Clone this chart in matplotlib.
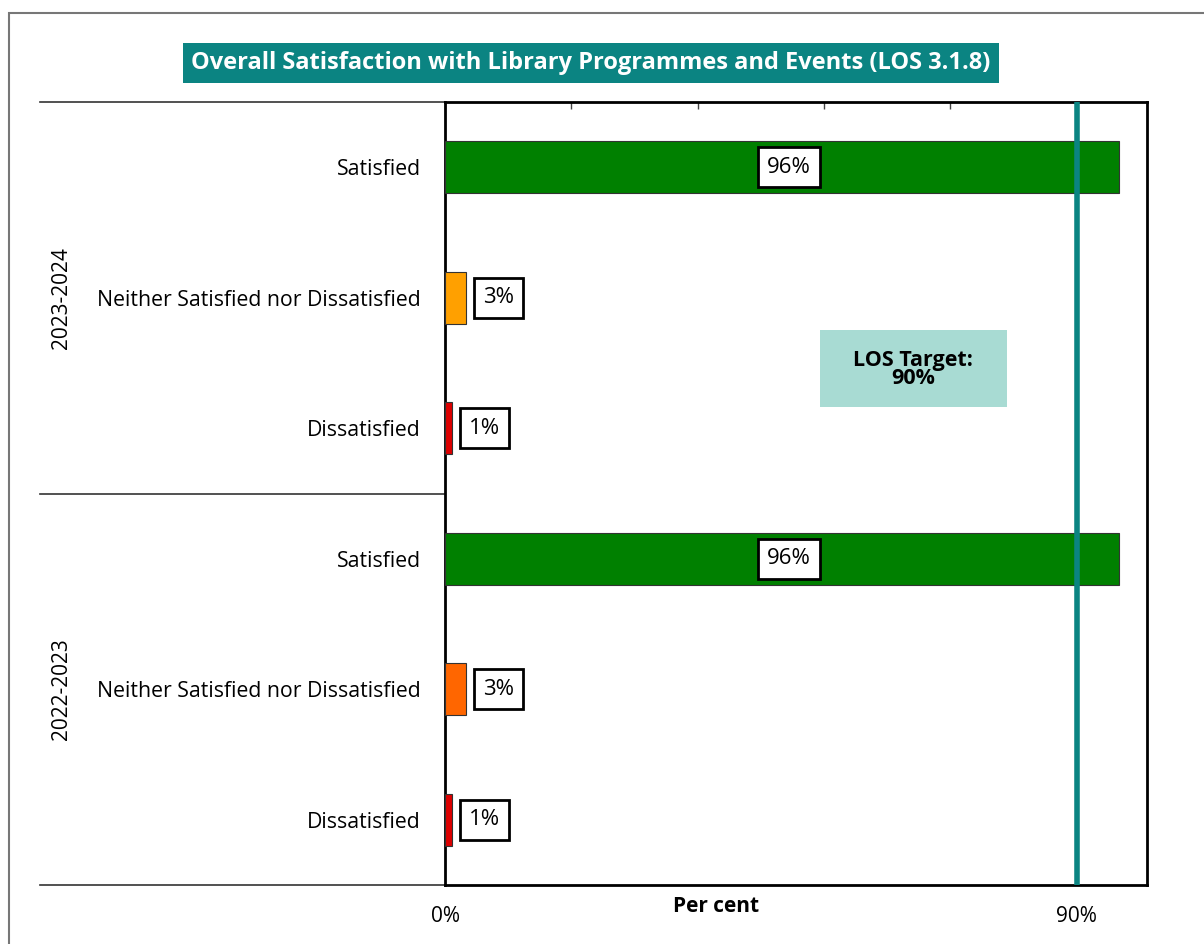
import matplotlib
matplotlib.use("Agg")
import matplotlib.pyplot as plt
import matplotlib.transforms as mtransforms
from matplotlib.patches import Rectangle

plt.rcParams["font.family"] = ["Open Sans", "DejaVu Sans"]

# survey results, one block per year (top block first)
years = ["2023-2024", "2022-2023"]
responses = ["Satisfied", "Neither Satisfied nor Dissatisfied", "Dissatisfied"]
values_2024 = [96, 3, 1]
values_2023 = [96, 3, 1]
colors_2024 = ["#008000", "#FFA000", "#DD0000"]
colors_2023 = ["#008000", "#FF6600", "#DD0000"]
target = 90
top_ticks = [0, 18, 36, 54, 72, 90]

TEAL = "#0b8482"

fig = plt.figure(figsize=(12.04, 9.44), dpi=100)
ax = fig.add_axes([445 / 1204, 1 - 885 / 944, 702 / 1204, 783 / 944])

labels = responses + responses
values = values_2024 + values_2023
colors = colors_2024 + colors_2023
ypos = list(range(len(values)))

ax.barh(ypos, values, height=0.4, color=colors, edgecolor="#333333",
        linewidth=0.8, zorder=3)
ax.set_ylim(len(values) - 0.5, -0.5)
ax.set_xlim(0, 100)

# value labels in white boxes
for y, v in zip(ypos, values):
    box = dict(boxstyle="square,pad=0.42", fc="white", ec="black", lw=2)
    if v > 20:
        ax.text(v / 2 + 1, y, f"{v}%", ha="center", va="center", fontsize=16,
                bbox=box, zorder=5)
    else:
        ax.text(v + 2.4, y, f"{v}%", ha="left", va="center", fontsize=16,
                bbox=box, zorder=5)

# target line and note
ax.axvline(target, color=TEAL, lw=4, zorder=4)
ax.add_patch(Rectangle((53.4, 1.25), 26.6, 0.59, fc="#a8dbd3", ec="none",
                       zorder=2))
ax.text(66.7, 1.55, f"LOS Target:\n{target}%", ha="center", va="center",
        fontsize=15.5, fontweight="bold", linespacing=0.85, zorder=3)

# axes styling
for s in ax.spines.values():
    s.set_linewidth(2)
    s.set_color("black")
ax.set_yticks(ypos)
ax.set_yticklabels(labels, fontsize=15.3)
ax.tick_params(axis="y", left=False, pad=14)
ax.set_xticks(top_ticks)
ax.set_xticklabels(["0%", "", "", "", "", "90%"], fontsize=15)
ax.tick_params(axis="x", bottom=False, top=True, direction="in", length=5,
               width=1, color="#444444", pad=15)

# year group separators and labels
trans = mtransforms.blended_transform_factory(ax.transAxes, ax.transData)
x0 = (40 - 445) / 702
for y in [-0.5, 2.5, 5.5]:
    ax.plot([x0, 0], [y, y], transform=trans, color="#333333", lw=1.2,
            clip_on=False)
for i, yr in enumerate(years):
    ax.text((62 - 445) / 702, 1 + 3 * i, yr, transform=trans, rotation=90,
            ha="center", va="center", fontsize=15)

ax.text((716 - 445) / 702, -0.014, "Per cent", transform=ax.transAxes,
        ha="center", va="top", fontsize=15, fontweight="bold")

fig.text((179 + 1003) / 2 / 1204, 1 - 63 / 944,
         "Overall Satisfaction with Library Programmes and Events (LOS 3.1.8)",
         ha="center", va="center", color="white", fontsize=17,
         fontweight="bold",
         bbox=dict(boxstyle="square,pad=0.35", fc=TEAL, ec="none"))

# outer frame
fig.patches.append(Rectangle((9 / 1204, -0.1), 1.2, 1 - 13 / 944 + 0.1,
                             transform=fig.transFigure, fill=False,
                             ec="#777777", lw=1.5))

fig.savefig("out.png", dpi=100)
